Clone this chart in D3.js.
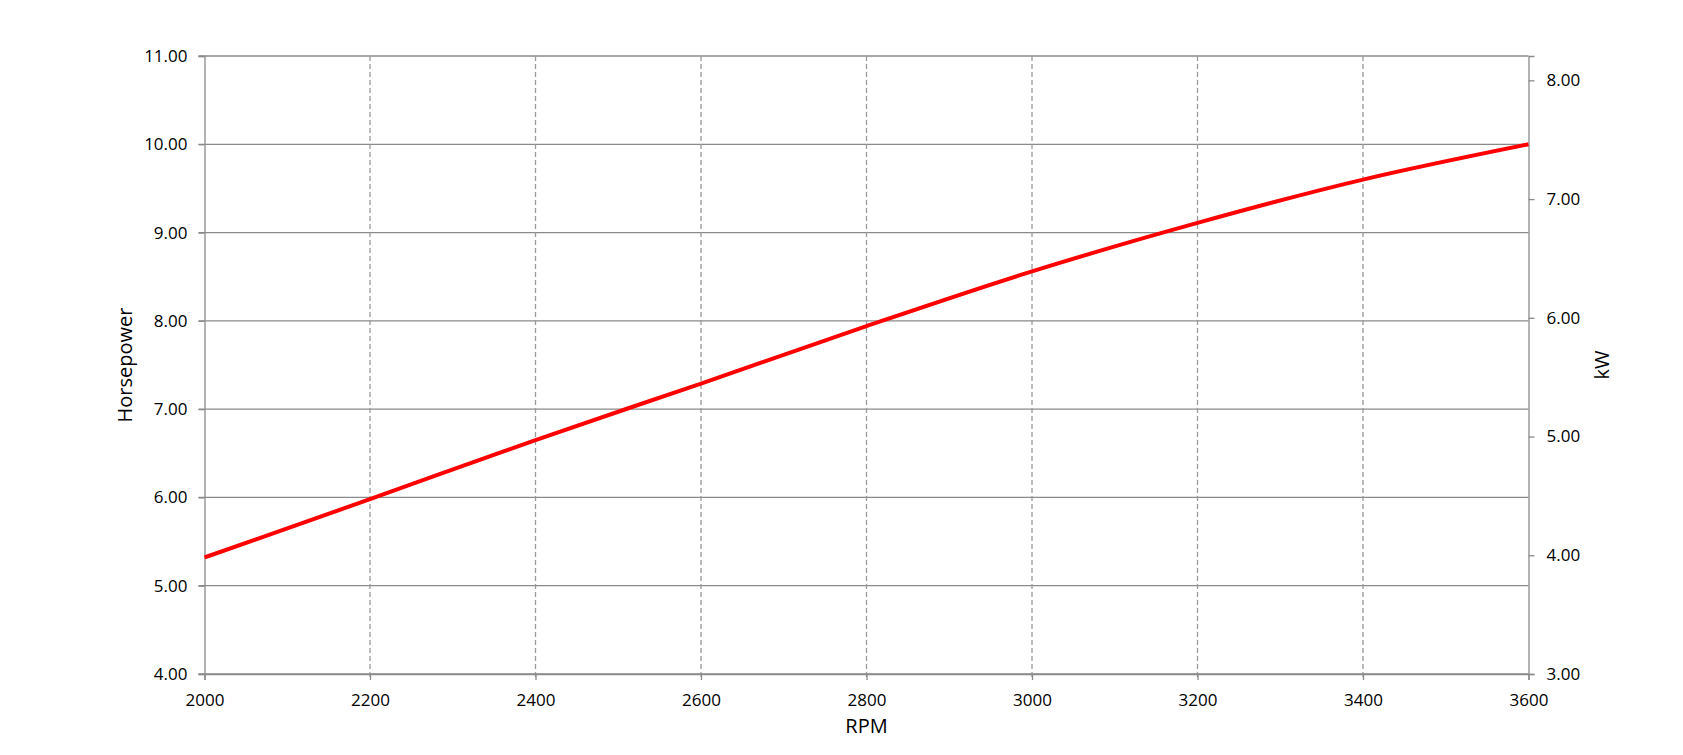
<!DOCTYPE html>
<html>
<head>
<meta charset="utf-8">
<script src="https://cdn.jsdelivr.net/npm/d3@7"></script>
<style>
  body { margin: 0; background: #fff; }
  text { font-family: "Open Sans", sans-serif; fill: #000; }
</style>
</head>
<body>
<div id="chart"></div>
<script>
// values
const rpm = [2000, 2200, 2400, 2600, 2800, 3000, 3200, 3400, 3600];
const horsepower = [5.32, 5.98, 6.65, 7.29, 7.94, 8.56, 9.11, 9.60, 10.00];
const hpTicks = [4, 5, 6, 7, 8, 9, 10, 11];
const kwTicks = [3, 4, 5, 6, 7, 8];
const rpmTicks = [2000, 2200, 2400, 2600, 2800, 3000, 3200, 3400, 3600];

const width = 1683, height = 755;
const plotLeft = 204.5, plotRight = 1528.5, plotTop = 56, plotBottom = 674;

const svg = d3.select("#chart").append("svg")
    .attr("width", width)
    .attr("height", height);

const x = d3.scaleLinear().domain([2000, 3600]).range([plotLeft, plotRight]);
const y = d3.scaleLinear().domain([4, 11]).range([plotBottom, plotTop]);
const y2 = d3.scaleLinear().domain([3, 8.205]).range([plotBottom, plotTop]);

// horizontal grid (solid)
svg.append("g").selectAll("line")
  .data(hpTicks)
  .enter().append("line")
    .attr("x1", plotLeft - 6).attr("x2", plotRight)
    .attr("y1", d => y(d)).attr("y2", d => y(d))
    .attr("stroke", "#8a8a8a")
    .attr("stroke-width", 1.3);

// vertical grid (dashed)
svg.append("g").selectAll("line")
  .data(rpmTicks.slice(1, -1))
  .enter().append("line")
    .attr("x1", d => x(d)).attr("x2", d => x(d))
    .attr("y1", plotTop).attr("y2", plotBottom + 6)
    .attr("stroke", "#9a9a9a")
    .attr("stroke-width", 1.3)
    .attr("stroke-dasharray", "5,3");

// left axis
const yAxis = svg.append("g")
    .attr("transform", `translate(${plotLeft},0)`)
    .call(d3.axisLeft(y).tickValues(hpTicks).tickFormat(d3.format(".2f")).tickSize(6).tickPadding(11));

// right axis
const y2Axis = svg.append("g")
    .attr("transform", `translate(${plotRight},0)`)
    .call(d3.axisRight(y2).tickValues(kwTicks).tickFormat(d3.format(".2f")).tickSize(6).tickPadding(12));

// bottom axis
const xAxis = svg.append("g")
    .attr("transform", `translate(0,${plotBottom})`)
    .call(d3.axisBottom(x).tickValues(rpmTicks).tickFormat(d3.format("d")).tickSize(6).tickPadding(10));

[yAxis, y2Axis, xAxis].forEach(g => {
  g.select(".domain").attr("stroke", "#8a8a8a").attr("stroke-width", 1.3);
  g.selectAll(".tick line").attr("stroke", "#8a8a8a").attr("stroke-width", 1.3);
  g.selectAll(".tick text")
    .style("font-family", "'Open Sans', sans-serif")
    .style("font-size", "17px")
    .attr("fill", "#000");
});
xAxis.selectAll(".tick text").attr("dy", "0.95em");

// the curve
const line = d3.line()
    .x((d, i) => x(rpm[i]))
    .y(d => y(d))
    .curve(d3.curveMonotoneX);

svg.append("path")
    .datum(horsepower)
    .attr("d", line)
    .attr("fill", "none")
    .attr("stroke", "#ff0000")
    .attr("stroke-width", 4);

// axis titles
svg.append("text")
    .attr("x", (plotLeft + plotRight) / 2)
    .attr("y", 733)
    .attr("text-anchor", "middle")
    .style("font-size", "20px")
    .text("RPM");

svg.append("text")
    .attr("transform", `translate(132,${(plotTop + plotBottom) / 2}) rotate(-90)`)
    .attr("text-anchor", "middle")
    .style("font-size", "20px")
    .text("Horsepower");

svg.append("text")
    .attr("transform", `translate(1609,${(plotTop + plotBottom) / 2}) rotate(-90)`)
    .attr("text-anchor", "middle")
    .style("font-size", "20px")
    .text("kW");
</script>
</body>
</html>
